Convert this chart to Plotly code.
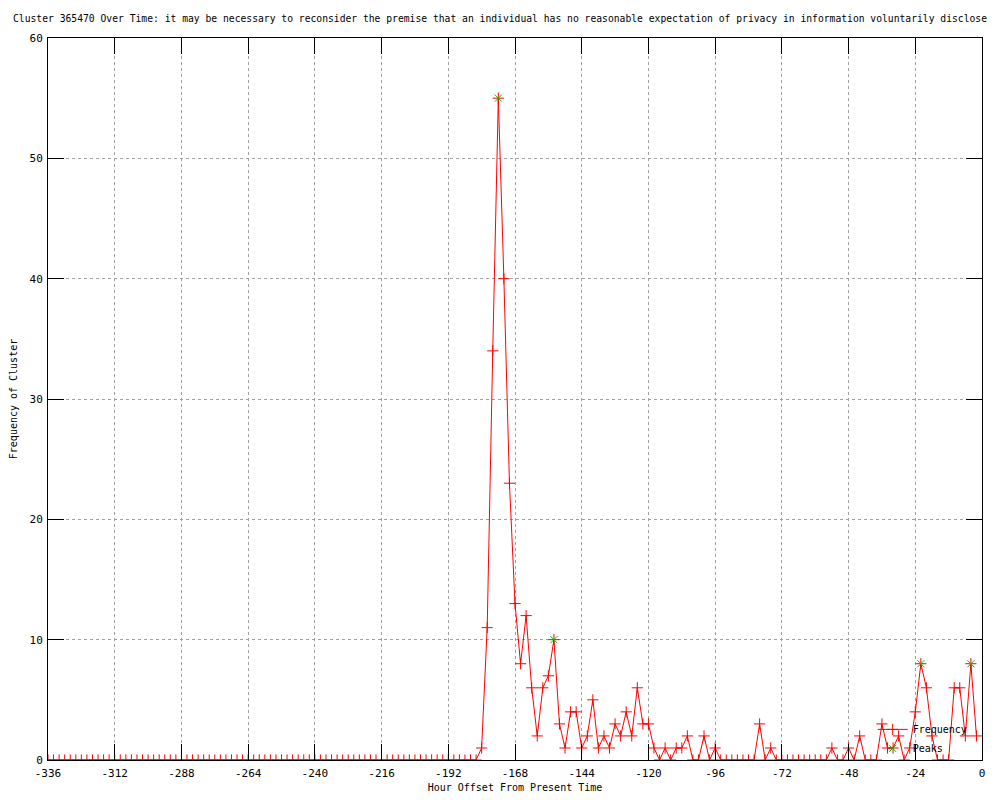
import plotly.graph_objects as go

title_text = ("Cluster 365470 Over Time: it may be necessary to reconsider the premise that an "
              "individual has no reasonable expectation of privacy in information voluntarily disclose")

hours = list(range(-336, 0, 2))

freq = [
    # -336 .. -182 (all zero)
    0, 0, 0, 0, 0, 0, 0, 0, 0, 0, 0, 0, 0, 0, 0, 0, 0, 0, 0, 0,
    0, 0, 0, 0, 0, 0, 0, 0, 0, 0, 0, 0, 0, 0, 0, 0, 0, 0, 0, 0,
    0, 0, 0, 0, 0, 0, 0, 0, 0, 0, 0, 0, 0, 0, 0, 0, 0, 0, 0, 0,
    0, 0, 0, 0, 0, 0, 0, 0, 0, 0, 0, 0, 0, 0, 0, 0, 0, 0,
    # -180 .. -2
    1, 11, 34, 55, 40, 23, 13, 8, 12, 6,
    2, 6, 7, 10, 3, 1, 4, 4, 1, 2,
    5, 1, 2, 1, 3, 2, 4, 2, 6, 3,
    3, 1, 0, 1, 0, 1, 1, 2, 0, 0,
    2, 0, 1, 0, 0, 0, 0, 0, 0, 0,
    3, 0, 1, 0, 0, 0, 0, 0, 0, 0,
    0, 0, 0, 1, 0, 0, 1, 0, 2, 0,
    0, 0, 3, 1, 1, 2, 0, 1, 4, 8,
    6, 2, 0, 0, 0, 6, 6, 2, 8, 2,
]

peak_hours = [-174, -154, -22, -4]
peak_values = [55, 10, 8, 8]

x_ticks = [-336, -312, -288, -264, -240, -216, -192, -168, -144, -120, -96, -72, -48, -24, 0]
y_ticks = [0, 10, 20, 30, 40, 50, 60]

FONT = "DejaVu Sans Mono, Liberation Mono, monospace"

fig = go.Figure()
fig.add_trace(go.Scatter(
    x=hours, y=freq, name="Frequency", mode="lines+markers",
    line=dict(color="#ff0000", width=1),
    marker=dict(symbol="cross-thin", size=8, color="#ff0000",
                line=dict(color="#ff0000", width=1)),
))
fig.add_trace(go.Scatter(
    x=peak_hours, y=peak_values, name="Peaks", mode="markers",
    marker=dict(symbol="x-thin", size=7, color="#00c000",
                line=dict(color="#00c000", width=1)),
))

axis_common = dict(
    showline=True, mirror="ticks", linecolor="black", linewidth=1,
    ticks="inside", ticklen=16, tickcolor="black", tickwidth=1,
    showgrid=True, gridcolor="#a0a0a0", griddash="dot", gridwidth=1,
    zeroline=False, automargin=False,
    tickfont=dict(family=FONT, size=11, color="black"),
)

fig.update_layout(
    width=992, height=792,
    margin=dict(l=40, r=18, t=30, b=40, autoexpand=False),
    paper_bgcolor="white", plot_bgcolor="white",
    font=dict(family=FONT, size=11, color="black"),
    title=dict(text=title_text, x=0.496, xanchor="center", y=0.986, yanchor="middle",
               font=dict(family=FONT, size=9.7, color="black")),
    xaxis=dict(range=[-336, 0], tickvals=x_ticks, ticktext=[str(v) for v in x_ticks],
               ticklabelstandoff=3,
               title=dict(text="Hour Offset From Present Time", standoff=4,
                          font=dict(family=FONT, size=10)),
               **axis_common),
    yaxis=dict(range=[0, 60], tickvals=y_ticks, ticklabelstandoff=2,
               title=dict(text="Frequency of Cluster", standoff=10,
                          font=dict(family=FONT, size=10)),
               **axis_common),
    legend=dict(x=0.99, xanchor="right", y=-0.004, yanchor="bottom",
                bgcolor="rgba(0,0,0,0)", borderwidth=0,
                font=dict(family=FONT, size=10, color="black"),
                tracegroupgap=0, itemwidth=30),
    showlegend=True,
)

fig.write_html("out.html")
